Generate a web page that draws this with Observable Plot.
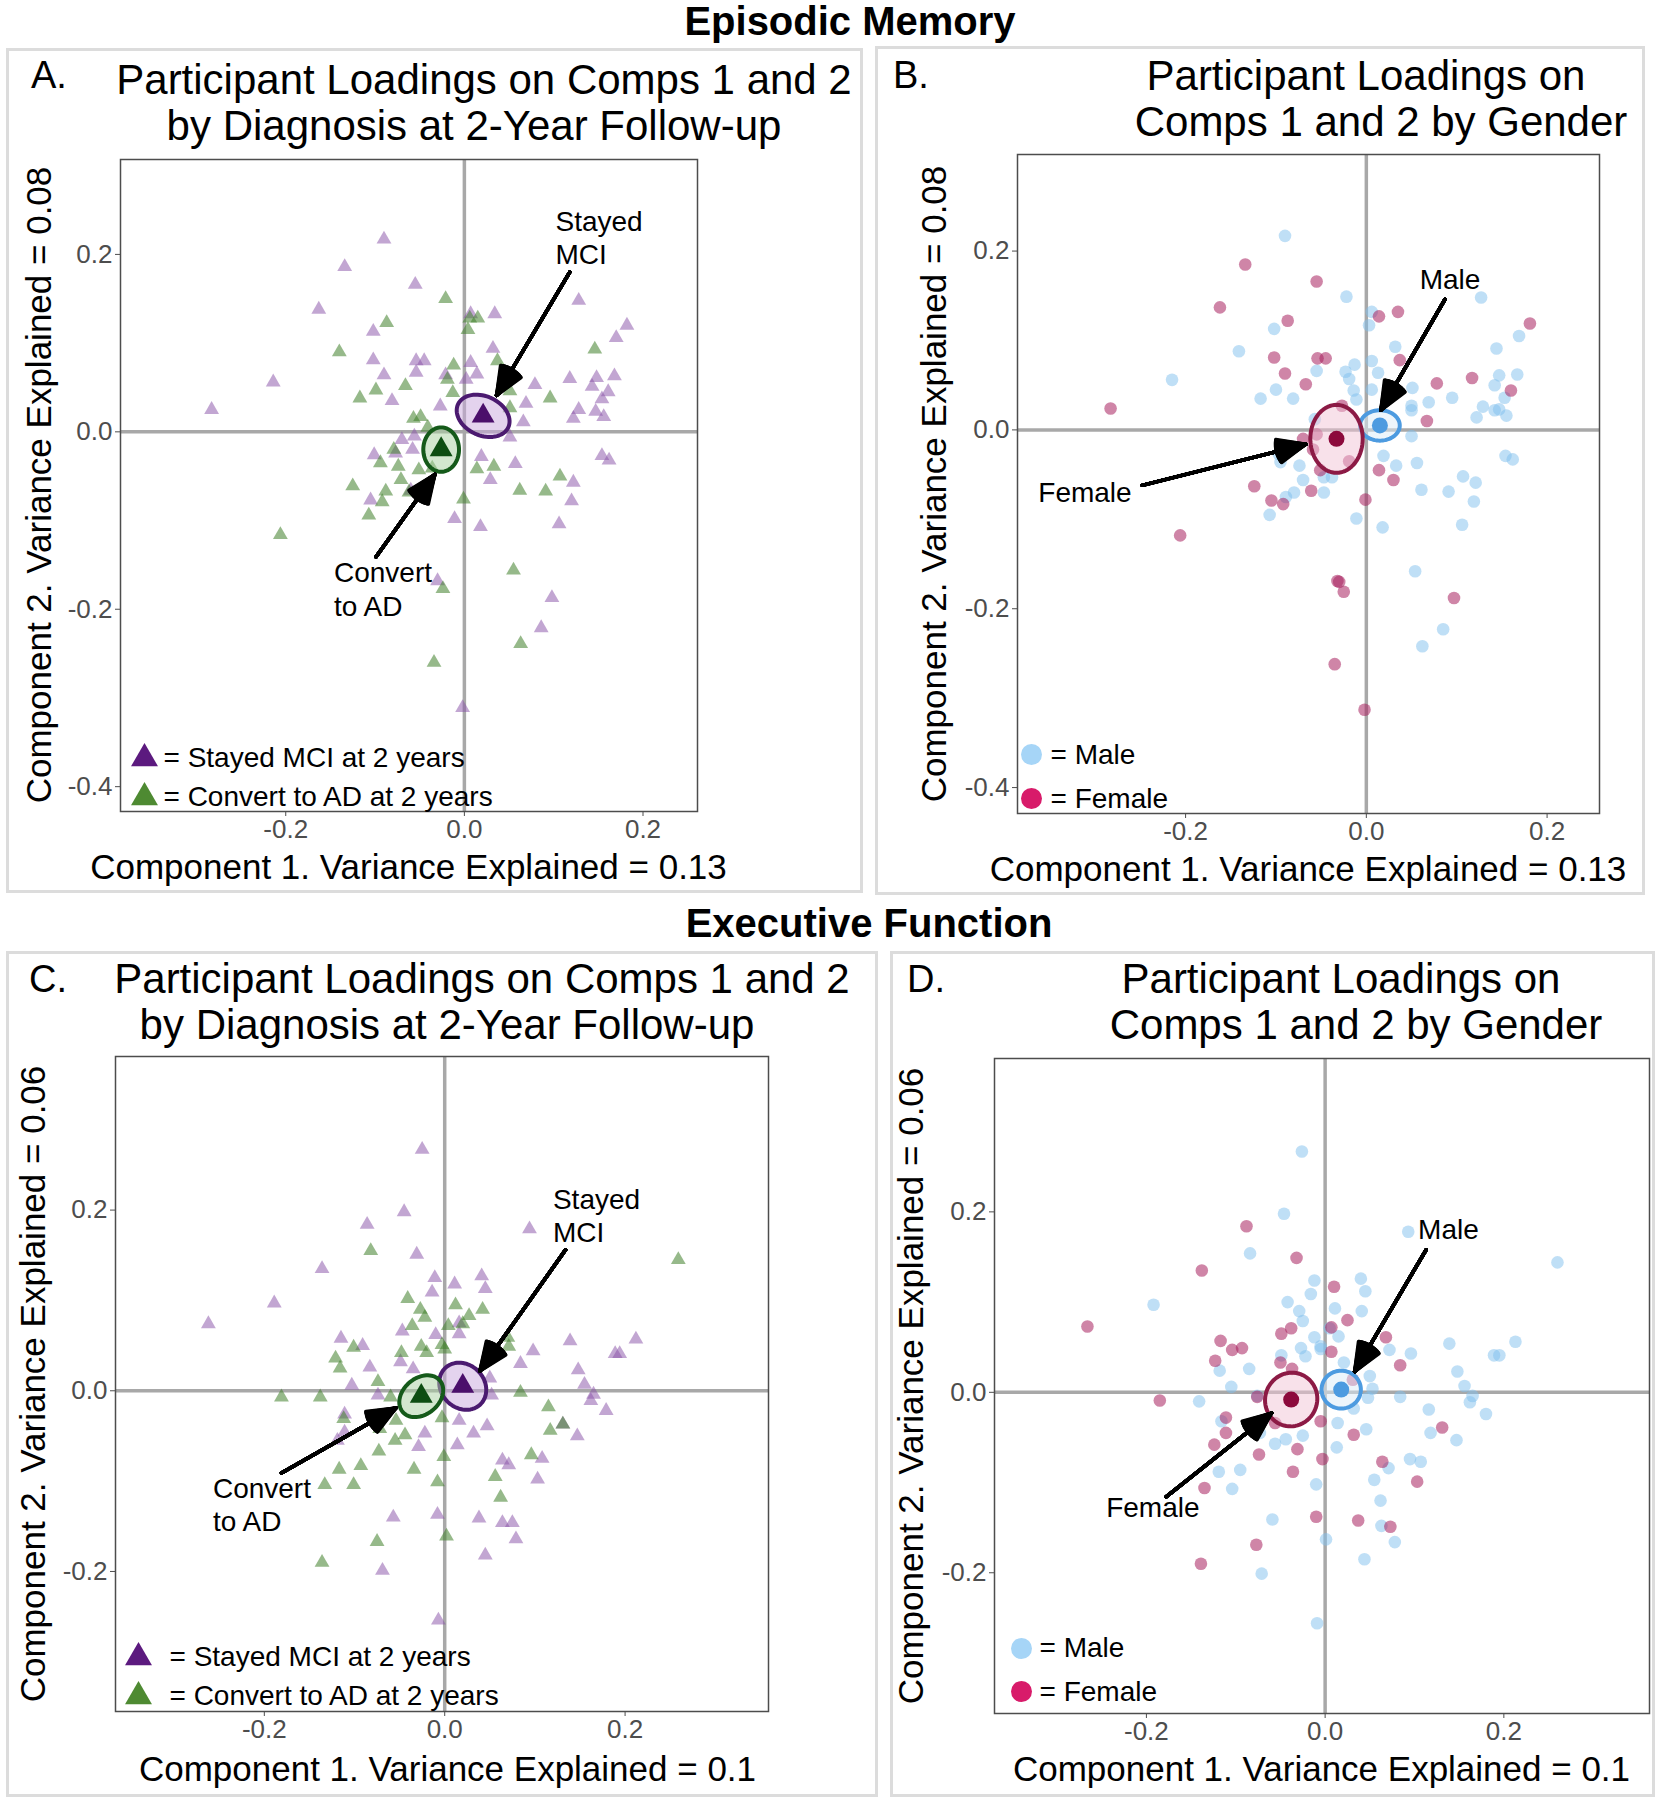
<!DOCTYPE html>
<html><head><meta charset="utf-8">
<script src="https://cdn.jsdelivr.net/npm/d3@7"></script>
<script src="https://cdn.jsdelivr.net/npm/@observablehq/plot@0.6"></script>
<style>
body{margin:0;background:#fff;}
#page{position:relative;width:1659px;height:1800px;overflow:hidden;font-family:"Liberation Sans",Arial,Helvetica,sans-serif;color:#000;background:#fff;}
.abs{position:absolute;white-space:nowrap;line-height:1;}
.box{position:absolute;border:3px solid #dcdcdc;box-sizing:border-box;}
</style></head><body><div id="page"></div>
<script>
// ---------- DATA ----------
const sectionTitles = ["Episodic Memory", "Executive Function"];
const panelLetters = ["A.", "B.", "C.", "D."];
const titleDiag = ["Participant Loadings on Comps 1 and 2", "by Diagnosis at 2-Year Follow-up"];
const titleGender = ["Participant Loadings on", "Comps 1 and 2 by Gender"];
const xTitleEM = "Component 1. Variance Explained = 0.13";
const yTitleEM = "Component 2. Variance Explained = 0.08";
const xTitleEF = "Component 1. Variance Explained = 0.1";
const yTitleEF = "Component 2. Variance Explained = 0.06";
const legendDiag = ["= Stayed MCI at 2 years", "= Convert to AD at 2 years"];
const legendGender = ["= Male", "= Female"];
const xTicks = [-0.2, 0, 0.2];
const yTicksEM = [-0.4, -0.2, 0, 0.2];
const yTicksEF = [-0.2, 0, 0.2];

// Panel A: Episodic memory by diagnosis
const aStayed = [[-0.090,0.217],[-0.134,0.186],[-0.055,0.166],[-0.163,0.138],[0.007,0.133],[0.034,0.133],[0.128,0.148],[0.182,0.120],[0.170,0.106],[-0.102,0.113],[0.032,0.094],[-0.102,0.081],[-0.054,0.080],[-0.045,0.080],[0.007,0.078],[-0.214,0.056],[-0.090,0.064],[-0.054,0.067],[-0.021,0.064],[0.014,0.065],[0.079,0.053],[0.118,0.060],[0.148,0.061],[0.168,0.063],[0.143,0.051],[0.161,0.045],[-0.283,0.025],[-0.081,0.035],[-0.027,0.029],[0.069,0.032],[0.128,0.025],[0.154,0.037],[0.147,0.023],[0.156,0.017],[0.122,0.015],[0.066,0.011],[0.051,-0.006],[-0.070,-0.009],[-0.056,-0.005],[-0.101,-0.026],[-0.077,-0.024],[-0.058,-0.020],[0.019,-0.028],[0.057,-0.036],[0.154,-0.027],[0.162,-0.032],[0.122,-0.057],[-0.105,-0.077],[0.120,-0.078],[-0.011,-0.098],[0.018,-0.107],[0.106,-0.104],[-0.030,-0.168],[0.098,-0.187],[0.086,-0.221],[-0.002,-0.311],[-0.060,-0.066],[0.029,-0.054],[0.002,0.059]];
const aConvert = [[-0.021,0.150],[-0.087,0.123],[0.006,0.128],[0.015,0.128],[0.004,0.115],[-0.140,0.090],[0.146,0.093],[0.037,0.080],[-0.012,0.075],[-0.066,0.052],[-0.099,0.047],[-0.117,0.038],[-0.019,0.059],[-0.013,0.044],[0.051,0.046],[0.096,0.038],[0.051,0.027],[-0.057,0.015],[-0.049,0.017],[-0.041,0.005],[-0.079,-0.020],[-0.094,-0.035],[-0.074,-0.039],[-0.051,-0.043],[-0.036,-0.041],[0.014,-0.042],[0.033,-0.039],[-0.125,-0.061],[-0.071,-0.054],[-0.088,-0.067],[-0.062,-0.068],[-0.045,-0.067],[-0.001,-0.076],[0.107,-0.050],[0.062,-0.066],[0.091,-0.067],[-0.092,-0.079],[-0.107,-0.094],[-0.206,-0.116],[0.055,-0.156],[-0.024,-0.177],[0.063,-0.239],[-0.034,-0.260]];
// Panel B: Episodic memory by gender
const bMale = [[-0.090,0.217],[-0.022,0.149],[0.006,0.132],[0.003,0.117],[0.127,0.148],[-0.102,0.113],[-0.141,0.088],[0.032,0.093],[0.144,0.091],[0.169,0.105],[0.006,0.077],[-0.013,0.073],[-0.055,0.066],[-0.023,0.065],[0.013,0.064],[-0.215,0.056],[-0.100,0.045],[-0.117,0.035],[-0.081,0.035],[-0.019,0.057],[-0.014,0.044],[0.006,0.045],[0.051,0.047],[0.069,0.031],[0.095,0.036],[0.050,0.027],[0.050,0.022],[0.129,0.026],[0.122,0.014],[0.142,0.022],[0.147,0.023],[0.155,0.016],[0.153,0.036],[0.142,0.050],[0.147,0.061],[0.167,0.062],[-0.011,0.034],[-0.057,0.012],[0.050,-0.007],[0.019,-0.029],[0.033,-0.040],[0.056,-0.037],[-0.095,-0.036],[-0.074,-0.040],[-0.070,-0.056],[-0.047,-0.053],[-0.038,-0.053],[-0.080,-0.070],[-0.047,-0.070],[-0.089,-0.075],[-0.107,-0.095],[-0.011,-0.099],[0.018,-0.109],[0.061,-0.067],[0.091,-0.069],[0.107,-0.052],[0.121,-0.059],[0.119,-0.080],[0.106,-0.106],[0.154,-0.029],[0.162,-0.033],[0.054,-0.158],[0.085,-0.223],[0.062,-0.242],[-0.097,-0.027]];
const bFemale = [[-0.134,0.185],[-0.055,0.166],[-0.162,0.137],[-0.087,0.122],[0.014,0.127],[0.035,0.132],[0.181,0.119],[-0.102,0.081],[-0.054,0.080],[-0.045,0.080],[0.037,0.078],[-0.090,0.063],[-0.067,0.051],[0.078,0.052],[0.117,0.058],[0.160,0.044],[-0.283,0.024],[-0.027,0.027],[0.067,0.010],[-0.070,-0.010],[-0.055,-0.005],[-0.059,-0.022],[-0.019,-0.035],[-0.051,-0.045],[0.014,-0.045],[0.030,-0.056],[-0.124,-0.063],[-0.061,-0.068],[-0.105,-0.079],[-0.092,-0.083],[-0.001,-0.078],[-0.206,-0.118],[-0.032,-0.169],[-0.030,-0.170],[-0.025,-0.181],[0.097,-0.188],[-0.035,-0.262],[-0.002,-0.313]];
// Panel C: Executive function by diagnosis
const cStayed = [[-0.025,0.267],[-0.045,0.198],[-0.086,0.184],[0.094,0.179],[-0.031,0.151],[-0.136,0.135],[-0.189,0.097],[-0.262,0.074],[-0.011,0.125],[-0.014,0.109],[0.011,0.118],[0.041,0.127],[0.045,0.113],[0.016,0.075],[0.016,0.063],[-0.010,0.062],[-0.047,0.066],[-0.115,0.058],[-0.091,0.050],[0.139,0.055],[0.212,0.057],[0.189,0.041],[0.194,0.041],[0.098,0.044],[0.084,0.030],[-0.049,0.032],[-0.035,0.024],[-0.083,0.026],[0.148,0.023],[0.155,0.007],[0.165,-0.004],[0.162,-0.011],[0.179,-0.022],[0.050,0.014],[0.052,-0.005],[-0.103,0.006],[-0.074,-0.005],[-0.111,-0.026],[-0.111,-0.046],[-0.119,-0.055],[-0.022,-0.047],[-0.029,-0.062],[0.016,-0.033],[0.032,-0.047],[0.047,-0.039],[0.014,-0.060],[0.131,-0.037],[0.147,-0.050],[0.064,-0.077],[0.071,-0.082],[0.108,-0.075],[0.103,-0.098],[-0.057,-0.140],[-0.008,-0.137],[0.038,-0.141],[0.064,-0.146],[0.075,-0.146],[0.079,-0.164],[0.045,-0.182],[-0.069,-0.199],[-0.007,-0.254]];
const cConvert = [[-0.082,0.155],[0.259,0.145],[-0.041,0.102],[-0.027,0.090],[0.012,0.095],[0.042,0.090],[-0.022,0.081],[0.027,0.083],[-0.036,0.072],[0.004,0.072],[0.020,0.074],[-0.026,0.049],[-0.020,0.042],[-0.048,0.042],[-0.003,0.051],[0.000,0.046],[-0.101,0.048],[-0.121,0.036],[-0.116,0.025],[0.071,0.049],[0.070,0.059],[-0.181,-0.007],[-0.138,-0.007],[-0.074,0.010],[-0.060,-0.007],[0.084,-0.002],[0.115,-0.018],[-0.112,-0.031],[-0.072,-0.042],[-0.054,-0.033],[-0.044,-0.049],[-0.055,-0.055],[-0.073,-0.067],[-0.003,-0.030],[-0.001,-0.073],[-0.034,-0.087],[-0.093,-0.083],[-0.117,-0.087],[-0.133,-0.104],[-0.101,-0.104],[-0.008,-0.101],[0.096,-0.071],[0.056,-0.095],[0.117,-0.044],[0.131,-0.037],[0.062,-0.118],[0.002,-0.161],[-0.075,-0.167],[-0.136,-0.190]];
// Panel D: Executive function by gender
const dMale = [[-0.026,0.267],[-0.046,0.198],[0.093,0.178],[-0.084,0.154],[0.260,0.144],[-0.012,0.124],[-0.016,0.109],[0.040,0.126],[0.045,0.112],[-0.042,0.100],[-0.029,0.090],[0.011,0.093],[0.041,0.090],[-0.025,0.079],[-0.192,0.097],[-0.012,0.061],[0.015,0.062],[0.005,0.071],[-0.027,0.049],[-0.022,0.040],[-0.005,0.051],[-0.049,0.041],[0.072,0.047],[0.096,0.043],[0.139,0.054],[0.213,0.056],[0.189,0.041],[0.195,0.041],[0.148,0.023],[0.156,0.007],[0.165,-0.004],[0.162,-0.011],[0.180,-0.024],[-0.118,0.024],[-0.085,0.026],[-0.105,0.006],[-0.076,-0.004],[-0.141,-0.010],[0.021,0.033],[0.050,0.018],[0.053,0.004],[0.048,-0.006],[0.084,-0.005],[0.116,-0.019],[0.118,-0.045],[0.147,-0.053],[0.032,-0.018],[0.014,-0.034],[0.046,-0.041],[0.013,-0.061],[-0.025,-0.048],[-0.044,-0.052],[-0.056,-0.057],[-0.073,-0.045],[-0.116,-0.032],[-0.119,-0.088],[-0.095,-0.086],[-0.104,-0.107],[-0.010,-0.102],[0.095,-0.074],[0.107,-0.077],[0.071,-0.084],[0.055,-0.097],[0.062,-0.120],[0.063,-0.148],[0.078,-0.166],[0.044,-0.185],[0.001,-0.163],[-0.059,-0.141],[-0.071,-0.201],[-0.009,-0.256],[-0.005,0.048]];
const dFemale = [[-0.088,0.184],[-0.032,0.149],[-0.138,0.135],[-0.266,0.073],[0.010,0.117],[0.025,0.080],[-0.049,0.065],[-0.038,0.071],[0.007,0.072],[-0.117,0.057],[-0.104,0.047],[-0.093,0.049],[-0.123,0.035],[0.007,0.045],[0.068,0.061],[0.084,0.030],[-0.050,0.033],[-0.037,0.026],[0.031,0.014],[-0.185,-0.009],[-0.111,-0.028],[-0.111,-0.045],[-0.124,-0.058],[-0.056,-0.034],[-0.005,-0.032],[0.032,-0.047],[-0.031,-0.063],[-0.074,-0.069],[-0.003,-0.074],[-0.036,-0.088],[0.064,-0.077],[0.103,-0.099],[0.131,-0.039],[-0.135,-0.106],[-0.010,-0.138],[0.037,-0.142],[0.073,-0.149],[-0.077,-0.169],[-0.139,-0.190],[-0.076,-0.005]];

// Group centroids
const aCentroids = [{g:"Stayed", x:0.021, y:0.018}, {g:"Convert", x:-0.026, y:-0.020}];
const bCentroids = [{g:"Male", x:0.015, y:0.005}, {g:"Female", x:-0.033, y:-0.010}];
const cCentroids = [{g:"Stayed", x:0.020, y:0.005}, {g:"Convert", x:-0.026, y:-0.006}];
const dCentroids = [{g:"Male", x:0.018, y:0.003}, {g:"Female", x:-0.038, y:-0.008}];
// Ellipses around centroids: [cx, cy, rx, ry, angleDeg]
const aEllipses = [{g:"Stayed", e:[0.021,0.018,0.031,0.022,-25]}, {g:"Convert", e:[-0.026,-0.020,0.020,0.025,0]}];
const bEllipses = [{g:"Male", e:[0.015,0.005,0.022,0.017,0]}, {g:"Female", e:[-0.033,-0.010,0.029,0.038,0]}];
const cEllipses = [{g:"Stayed", e:[0.020,0.005,0.028,0.024,-45]}, {g:"Convert", e:[-0.026,-0.006,0.027,0.020,40]}];
const dEllipses = [{g:"Male", e:[0.018,0.003,0.022,0.021,0]}, {g:"Female", e:[-0.038,-0.008,0.029,0.030,-30]}];

// Annotations
const aLabels = [{x:0.102,y:0.237,text:"Stayed"},{x:0.102,y:0.199,text:"MCI"},{x:-0.146,y:-0.159,text:"Convert"},{x:-0.146,y:-0.198,text:"to AD"}];
const aArrows = [{x1:0.118,y1:0.180,x2:0.036,y2:0.041},{x1:-0.099,y1:-0.141,x2:-0.033,y2:-0.048}];
const bLabels = [{x:0.059,y:0.168,text:"Male"},{x:-0.363,y:-0.071,text:"Female"}];
const bArrows = [{x1:0.087,y1:0.146,x2:0.016,y2:0.022},{x1:-0.248,y1:-0.062,x2:-0.067,y2:-0.016}];
const cLabels = [{x:0.120,y:0.211,text:"Stayed"},{x:0.120,y:0.175,text:"MCI"},{x:-0.257,y:-0.109,text:"Convert"},{x:-0.257,y:-0.145,text:"to AD"}];
const cArrows = [{x1:0.134,y1:0.156,x2:0.039,y2:0.022},{x1:-0.181,y1:-0.091,x2:-0.054,y2:-0.019}];
const dLabels = [{x:0.104,y:0.180,text:"Male"},{x:-0.245,y:-0.128,text:"Female"}];
const dArrows = [{x1:0.113,y1:0.158,x2:0.033,y2:0.023},{x1:-0.178,y1:-0.116,x2:-0.060,y2:-0.023}];

// ---------- STYLE ----------
const FONT = '"Liberation Sans", Arial, Helvetica, sans-serif';
const sty = {
  Stayed: {pt:"#8a55a8", ptOp:0.52, leg:"#5c1a7f", cen:"#4b0f6b", ell:"#4b1a70", ellFill:"#c9a8de"},
  Convert:{pt:"#3f7f2a", ptOp:0.55, leg:"#4e8a32", cen:"#0d4d12", ell:"#155a1a", ellFill:"#a8d0a0"},
  Male:   {pt:"#7fc0ee", ptOp:0.5, leg:"#a6d5f7", cen:"#4d9be0", ell:"#4d9be0", ellFill:"#dcebf8"},
  Female: {pt:"#a8205e", ptOp:0.55, leg:"#d81b6a", cen:"#8c0a3c", ell:"#8c1a45", ellFill:"#f2c4d6"}
};
// layered head angles to render a filled-looking arrowhead
const headAngles = [46, 43, 40, 37, 34, 31, 28, 25, 22, 19, 16, 13, 10, 7, 4, 1];

const page = document.getElementById("page");
function addText(str, o) {
  const d = document.createElement("div");
  d.className = "abs";
  d.textContent = str;
  d.style.fontSize = o.size + "px";
  d.style.fontWeight = o.weight || "normal";
  d.style.color = o.color || "#000";
  d.style.left = o.x + "px";
  if (o.rotate) {
    d.style.top = o.y + "px";
    d.style.transform = "translate(-50%,-50%) rotate(-90deg)";
  } else {
    d.style.top = (o.y - 0.4885 * o.size) + "px";
    if (o.anchor !== "start") d.style.transform = "translateX(-50%)";
  }
  page.appendChild(d);
}
function addBox(b) {
  const d = document.createElement("div");
  d.className = "box";
  d.style.left = b[0] + "px"; d.style.top = b[1] + "px";
  d.style.width = (b[2] - b[0]) + "px"; d.style.height = (b[3] - b[1]) + "px";
  page.appendChild(d);
}
function ellipsePoints(e) {
  const [cx, cy, rx, ry, a] = e;
  const th = a * Math.PI / 180, pts = [];
  for (let i = 0; i <= 72; i++) {
    const t = i / 72 * 2 * Math.PI;
    pts.push([cx + rx * Math.cos(t) * Math.cos(th) - ry * Math.sin(t) * Math.sin(th),
              cy + rx * Math.cos(t) * Math.sin(th) + ry * Math.sin(t) * Math.cos(th)]);
  }
  return pts;
}
const fmt = d => d.toFixed(1);

function makePanel(p) {
  const W = p.box[2] - p.box[0], H = p.box[3] - p.box[1];
  const marks = [
    Plot.ruleX([0], {stroke:"#a8a8a8", strokeWidth:3.5}),
    Plot.ruleY([0], {stroke:"#a8a8a8", strokeWidth:3.5}),
  ];
  p.groups.forEach(g => {
    marks.push(Plot.dot(g.data, {x:d=>d[0], y:d=>d[1], symbol:p.symbol, r:p.r, fill:sty[g.key].pt, fillOpacity:sty[g.key].ptOp}));
  });
  p.ellipses.forEach(el => {
    marks.push(Plot.line(ellipsePoints(el.e), {x:d=>d[0], y:d=>d[1], stroke:sty[el.g].ell, strokeWidth:4, fill:sty[el.g].ellFill, fillOpacity:0.5, curve:"linear"}));
  });
  marks.push(Plot.dot(p.centroids, {x:"x", y:"y", symbol:p.symbol, r:p.cr, fill:d=>sty[d.g].cen}));
  headAngles.forEach(a => {
    marks.push(Plot.arrow(p.arrows, {x1:"x1", y1:"y1", x2:"x2", y2:"y2", stroke:"black", strokeWidth:3.5, headLength:13, headAngle:a}));
  });
  marks.push(Plot.text(p.labels, {x:"x", y:"y", text:"text", textAnchor:"start", fontSize:28, fill:"black"}));
  marks.push(Plot.frame({stroke:"#4d4d4d", strokeWidth:1.5}));
  marks.push(Plot.axisX({ticks:xTicks, tickFormat:fmt, tickSize:5, tickPadding:3, fontSize:26, color:"#4d4d4d", label:null}));
  marks.push(Plot.axisY({ticks:p.yTicks, tickFormat:fmt, tickSize:5, tickPadding:3, fontSize:26, color:"#4d4d4d", label:null}));
  p.legend.forEach((lg, i) => {
    marks.push(Plot.dot([lg], {frameAnchor:"bottom-left", dx:lg.dx, dy:lg.dy, symbol:p.symbol, r:p.lr, fill:sty[lg.key].leg}));
    marks.push(Plot.text([lg], {frameAnchor:"bottom-left", dx:lg.tdx, dy:lg.tdy, text:"text", textAnchor:"start", fontSize:28, fill:"black"}));
  });
  const svg = Plot.plot({
    width:W, height:H,
    marginLeft:p.frame[0] - p.box[0], marginTop:p.frame[1] - p.box[1],
    marginRight:p.box[2] - p.frame[2], marginBottom:p.box[3] - p.frame[3],
    x:{domain:p.xDomain}, y:{domain:p.yDomain},
    style:{fontFamily:FONT, background:"transparent", overflow:"visible"},
    marks
  });
  svg.style.position = "absolute";
  svg.style.left = p.box[0] + "px";
  svg.style.top = p.box[1] + "px";
  addBox(p.box);
  page.appendChild(svg);
  addText(p.letter, {x:p.letterPos[0], y:p.letterPos[1], size:38, anchor:"start"});
  addText(p.title[0], {x:p.t1[0], y:p.t1[1], size:42});
  addText(p.title[1], {x:p.t2[0], y:p.t2[1], size:42});
  addText(p.xTitle, {x:(p.frame[0] + p.frame[2]) / 2 + (p.xtOff || 0), y:p.xtY, size:35});
  addText(p.yTitle, {x:p.ytX, y:(p.frame[1] + p.frame[3]) / 2, size:35, rotate:true});
}

addText(sectionTitles[0], {x:850, y:21, size:40, weight:"bold"});
addText(sectionTitles[1], {x:869, y:923, size:40, weight:"bold"});

makePanel({
  box:[6,48,863,893], frame:[120,159,697,811],
  xDomain:[-0.385,0.261], yDomain:[-0.428,0.307], yTicks:yTicksEM,
  symbol:"triangle", r:5.5, cr:8.5, lr:10,
  groups:[{key:"Stayed", data:aStayed}, {key:"Convert", data:aConvert}],
  ellipses:aEllipses, centroids:aCentroids, arrows:aArrows, labels:aLabels,
  legend:[{key:"Stayed", text:legendDiag[0], dx:24, dy:-53, tdx:43, tdy:-45}, {key:"Convert", text:legendDiag[1], dx:24, dy:-14, tdx:43, tdy:-6}],
  letter:panelLetters[0], letterPos:[31,75], title:titleDiag, t1:[484,80], t2:[474,126],
  xTitle:xTitleEM, xtY:866, yTitle:yTitleEM, ytX:38
});
makePanel({
  box:[875,46,1645,895], frame:[1017,154,1599,813],
  xDomain:[-0.386,0.258], yDomain:[-0.429,0.308], yTicks:yTicksEM,
  symbol:"circle", r:6.3, cr:8, lr:10.5,
  groups:[{key:"Male", data:bMale}, {key:"Female", data:bFemale}],
  ellipses:bEllipses, centroids:bCentroids, arrows:bArrows, labels:bLabels,
  legend:[{key:"Male", text:legendGender[0], dx:14, dy:-59, tdx:33, tdy:-50}, {key:"Female", text:legendGender[1], dx:14, dy:-15, tdx:33, tdy:-6}],
  letter:panelLetters[1], letterPos:[893,75], title:titleGender, t1:[1366,76], t2:[1381,122],
  xTitle:xTitleEM, xtY:868, yTitle:yTitleEM, ytX:933
});
makePanel({
  box:[6,951,878,1797], frame:[115,1056,768,1711],
  xDomain:[-0.365,0.359], yDomain:[-0.355,0.370], yTicks:yTicksEF,
  symbol:"triangle", r:5.5, cr:8.5, lr:10,
  groups:[{key:"Stayed", data:cStayed}, {key:"Convert", data:cConvert}],
  ellipses:cEllipses, centroids:cCentroids, arrows:cArrows, labels:cLabels,
  legend:[{key:"Stayed", text:legendDiag[0], dx:23, dy:-54, tdx:54, tdy:-46}, {key:"Convert", text:legendDiag[1], dx:23, dy:-15, tdx:54, tdy:-7}],
  letter:panelLetters[2], letterPos:[29,979], title:titleDiag, t1:[482,979], t2:[447,1025],
  xTitle:xTitleEF, xtOff:6, xtY:1768, yTitle:yTitleEF, ytX:32
});
makePanel({
  box:[890,951,1655,1797], frame:[994,1058,1649,1713],
  xDomain:[-0.370,0.363], yDomain:[-0.356,0.370], yTicks:yTicksEF,
  symbol:"circle", r:6.3, cr:8, lr:10.5,
  groups:[{key:"Male", data:dMale}, {key:"Female", data:dFemale}],
  ellipses:dEllipses, centroids:dCentroids, arrows:dArrows, labels:dLabels,
  legend:[{key:"Male", text:legendGender[0], dx:27, dy:-65, tdx:45, tdy:-57}, {key:"Female", text:legendGender[1], dx:27, dy:-22, tdx:45, tdy:-13}],
  letter:panelLetters[3], letterPos:[907,979], title:titleGender, t1:[1341,979], t2:[1356,1025],
  xTitle:xTitleEF, xtY:1768, yTitle:yTitleEF, ytX:910
});
</script></body></html>
